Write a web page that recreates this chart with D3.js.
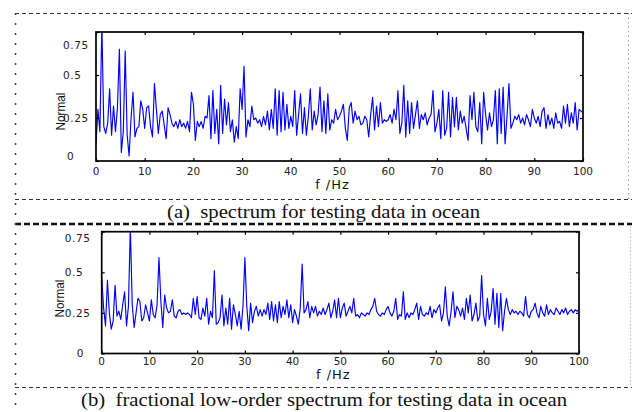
<!DOCTYPE html>
<html><head><meta charset="utf-8">
<script src="https://cdn.jsdelivr.net/npm/d3@7"></script>
<style>body{margin:0;background:#fff} svg{display:block}</style>
</head><body>
<svg id="c" width="632" height="412"></svg>
<script>
// ---------- data ----------
const fStep = 0.4; // Hz between samples
const xTicks = [0,10,20,30,40,50,60,70,80,90,100];
const yTicks = [0,0.25,0.5,0.75];
const yTickLabels = ["0","0.25","0.5","0.75"];
const xTitle = "f /Hz";
const yTitle = "Normal";
const captionA = "(a)  spectrum for testing data in ocean";
const captionB = "(b)  fractional low-order spectrum for testing data in ocean";

const specA = [
 0.10,0.30,0.17,0.80,0.20,0.16,0.22,0.42,0.15,0.32,0.17,0.31,0.65,0.05,0.17,0.64,0.15,0.03,0.25,0.40,0.14,0.19,0.20,0.35,0.30,
 0.19,0.31,0.32,0.20,0.14,0.45,0.30,0.16,0.27,0.29,0.21,0.13,0.31,0.27,0.22,0.20,0.23,0.19,0.24,0.20,0.22,0.19,0.23,0.17,0.40,
 0.33,0.12,0.23,0.20,0.23,0.19,0.26,0.25,0.38,0.13,0.41,0.16,0.30,0.10,0.44,0.16,0.36,0.21,0.34,0.17,0.24,0.11,0.20,0.13,0.42,
 0.30,0.55,0.14,0.24,0.20,0.32,0.24,0.25,0.22,0.24,0.20,0.26,0.21,0.29,0.18,0.30,0.19,0.42,0.15,0.41,0.17,0.40,0.18,0.33,0.19,
 0.26,0.20,0.41,0.15,0.27,0.39,0.16,0.31,0.15,0.26,0.42,0.18,0.29,0.21,0.27,0.43,0.17,0.35,0.16,0.39,0.18,0.24,0.22,0.30,0.24,
 0.26,0.29,0.33,0.19,0.12,0.31,0.34,0.22,0.29,0.24,0.26,0.21,0.22,0.26,0.24,0.14,0.27,0.37,0.18,0.32,0.20,0.34,0.22,0.24,0.23,
 0.24,0.27,0.22,0.30,0.24,0.41,0.16,0.22,0.44,0.14,0.35,0.16,0.34,0.19,0.27,0.35,0.19,0.27,0.24,0.28,0.21,0.25,0.27,0.41,0.17,
 0.22,0.30,0.13,0.41,0.15,0.19,0.40,0.14,0.37,0.20,0.37,0.18,0.29,0.22,0.26,0.19,0.12,0.38,0.24,0.40,0.20,0.17,0.34,0.10,0.40,
 0.27,0.18,0.28,0.20,0.24,0.41,0.10,0.42,0.16,0.43,0.10,0.26,0.45,0.19,0.22,0.26,0.24,0.27,0.22,0.25,0.21,0.27,0.24,0.20,0.30,
 0.25,0.22,0.26,0.20,0.29,0.31,0.19,0.27,0.21,0.25,0.19,0.28,0.22,0.23,0.19,0.32,0.22,0.33,0.20,0.28,0.22,0.34,0.18,0.30,0.29,0.28
];
const specB = [
 0.47,0.28,0.17,0.45,0.25,0.15,0.20,0.42,0.23,0.26,0.21,0.30,0.38,0.17,0.29,0.78,0.30,0.16,0.25,0.34,0.32,0.20,0.22,0.30,0.25,
 0.20,0.33,0.24,0.22,0.30,0.59,0.32,0.16,0.36,0.28,0.25,0.26,0.33,0.23,0.22,0.26,0.27,0.24,0.25,0.24,0.25,0.24,0.22,0.34,0.24,
 0.35,0.22,0.21,0.28,0.23,0.34,0.18,0.26,0.22,0.51,0.18,0.19,0.22,0.36,0.17,0.28,0.18,0.34,0.15,0.30,0.24,0.17,0.26,0.15,0.29,
 0.59,0.29,0.14,0.31,0.19,0.26,0.29,0.23,0.27,0.23,0.27,0.24,0.31,0.21,0.32,0.20,0.30,0.19,0.32,0.22,0.29,0.24,0.33,0.22,0.30,
 0.19,0.27,0.23,0.18,0.28,0.55,0.25,0.27,0.32,0.22,0.29,0.25,0.29,0.23,0.26,0.24,0.28,0.24,0.27,0.31,0.22,0.26,0.33,0.22,0.34,
 0.22,0.28,0.31,0.23,0.26,0.29,0.25,0.34,0.23,0.24,0.22,0.25,0.24,0.23,0.25,0.24,0.27,0.29,0.34,0.26,0.24,0.23,0.25,0.24,0.27,
 0.29,0.25,0.23,0.26,0.34,0.21,0.24,0.23,0.38,0.21,0.25,0.22,0.25,0.24,0.27,0.31,0.21,0.29,0.24,0.23,0.25,0.24,0.29,0.22,0.27,
 0.25,0.28,0.30,0.20,0.25,0.41,0.23,0.17,0.26,0.38,0.22,0.29,0.27,0.23,0.28,0.21,0.34,0.25,0.36,0.20,0.24,0.31,0.20,0.23,0.48,
 0.24,0.17,0.34,0.21,0.26,0.40,0.18,0.37,0.16,0.37,0.14,0.26,0.34,0.27,0.24,0.27,0.25,0.26,0.24,0.26,0.25,0.23,0.35,0.24,0.22,
 0.26,0.27,0.31,0.25,0.22,0.29,0.25,0.23,0.30,0.24,0.27,0.25,0.24,0.28,0.26,0.24,0.27,0.25,0.28,0.24,0.26,0.27,0.25,0.27,0.26,0.27
];

// ---------- drawing ----------
const svg = d3.select("#c");
const W = 632;

// dashed frames
function hdash(y, w, dash, col) {
  svg.append("line").attr("x1", 15).attr("x2", W).attr("y1", y).attr("y2", y)
    .attr("stroke", col).attr("stroke-width", w).attr("stroke-dasharray", dash);
}
function vdash(x, y1, y2, w, dash, col) {
  svg.append("line").attr("x1", x).attr("x2", x).attr("y1", y1).attr("y2", y2)
    .attr("stroke", col).attr("stroke-width", w).attr("stroke-dasharray", dash);
}
hdash(13.5, 1, "4,3", "#333");
hdash(199.5, 1, "4,3", "#333");
hdash(224, 2.6, "6,3", "#111");
hdash(387.5, 1, "4,3", "#333");
vdash(15.5, 13, 412, 1.6, "2,8", "#444");
vdash(628.5, 13, 199, 1, "1.5,3", "#999");
vdash(630.5, 226, 387, 1, "1.5,2", "#bbb");

const tickFont = "'DejaVu Sans', sans-serif";

function panel(id, data, b) {
  const x = d3.scaleLinear().domain([0, 100]).range([b.left, b.right]);
  const y = d3.scaleLinear().domain([0, 0.75]).range([b.bottom, b.top]);
  const g = svg.append("g");

  g.append("clipPath").attr("id", "clip" + id).append("rect")
    .attr("x", b.left).attr("y", b.top).attr("width", b.right - b.left).attr("height", b.bottom - b.top);

  const line = d3.line().x((d, i) => x(i * fStep)).y(d => y(d));
  g.append("path").datum(data).attr("d", line)
    .attr("fill", "none").attr("stroke", "#0000ff").attr("stroke-width", 1.15)
    .attr("stroke-linejoin", "round").attr("clip-path", `url(#clip${id})`);

  // inner tick marks via axes
  const tl = 3;
  const axB = g.append("g").attr("transform", `translate(0,${b.bottom})`)
    .call(d3.axisTop(x).tickValues(xTicks).tickSize(tl).tickFormat(""));
  const axT = g.append("g").attr("transform", `translate(0,${b.top})`)
    .call(d3.axisBottom(x).tickValues(xTicks).tickSize(tl).tickFormat(""));
  const axL = g.append("g").attr("transform", `translate(${b.left},0)`)
    .call(d3.axisRight(y).tickValues(yTicks).tickSize(tl).tickFormat(""));
  const axR = g.append("g").attr("transform", `translate(${b.right},0)`)
    .call(d3.axisLeft(y).tickValues(yTicks).tickSize(tl).tickFormat(""));
  [axB, axT, axL, axR].forEach(a => {
    a.select(".domain").remove();
    a.selectAll("line").attr("stroke", "#000").attr("stroke-width", 1.2);
  });

  // box
  g.append("rect").attr("x", b.left).attr("y", b.top)
    .attr("width", b.right - b.left).attr("height", b.bottom - b.top)
    .attr("fill", "none").attr("stroke", "#000").attr("stroke-width", 1.7);

  // x tick labels
  g.selectAll(".xl").data(xTicks).enter().append("text")
    .attr("x", d => x(d)).attr("y", b.bottom + b.xLabOff)
    .attr("text-anchor", "middle").attr("font-family", tickFont)
    .attr("font-size", 10.5).attr("fill", "#222").text(d => d);

  // y tick labels (kept inside the box's vertical span)
  g.selectAll(".yl").data(yTicks).enter().append("text")
    .attr("x", (d, i) => b.left - b.yLabOff + (d === 0 ? b.zeroShift : 0))
    .attr("y", d => Math.min(b.bottom - b.yInsetBot, Math.max(b.top + b.yInsetTop, y(d))))
    .attr("dy", "0.36em").attr("text-anchor", "start")
    .attr("font-family", tickFont).attr("font-size", 10.5).attr("letter-spacing", 0.6)
    .attr("fill", "#222").text((d, i) => yTickLabels[i]);

  // axis titles
  g.append("text").attr("x", (b.left + b.right) / 2 - 7).attr("y", b.bottom + b.xTitleOff)
    .attr("text-anchor", "middle").attr("font-family", tickFont)
    .attr("font-size", 13).attr("letter-spacing", 1).attr("fill", "#111").text(xTitle);

  g.append("text")
    .attr("transform", `translate(${b.left - b.yTitleDx},${(b.top + b.bottom) / 2 + b.yTitleDy}) rotate(-90)`)
    .attr("text-anchor", "middle").attr("dy", "0.35em")
    .attr("font-family", "'Liberation Sans', sans-serif").attr("font-size", 13)
    .attr("textLength", 38).attr("lengthAdjust", "spacingAndGlyphs")
    .attr("fill", "#111").text(yTitle);
}

panel("A", specA, {left: 96, right: 583, top: 32, bottom: 161,
  xLabOff: 14, yLabOff: 33, zeroShift: 4, yInsetTop: 13, yInsetBot: 5,
  xTitleOff: 28, yTitleDx: 36, yTitleDy: 15});
panel("B", specB, {left: 101.7, right: 579, top: 231.7, bottom: 353.5,
  xLabOff: 11.5, yLabOff: 37, zeroShift: 12, yInsetTop: 7, yInsetBot: 0,
  xTitleOff: 25, yTitleDx: 42, yTitleDy: 6});

// captions
const capFont = "'Liberation Serif', 'Times New Roman', serif";
svg.append("text").attr("x", 323.5).attr("y", 218).attr("text-anchor", "middle")
  .attr("font-family", capFont).attr("font-size", 19)
  .attr("textLength", 313).attr("lengthAdjust", "spacingAndGlyphs")
  .attr("fill", "#111").style("white-space", "pre").text(captionA);
svg.append("text").attr("x", 324).attr("y", 406).attr("text-anchor", "middle")
  .attr("font-family", capFont).attr("font-size", 19)
  .attr("textLength", 486).attr("lengthAdjust", "spacingAndGlyphs")
  .attr("fill", "#111").style("white-space", "pre").text(captionB);
</script>
</body></html>
